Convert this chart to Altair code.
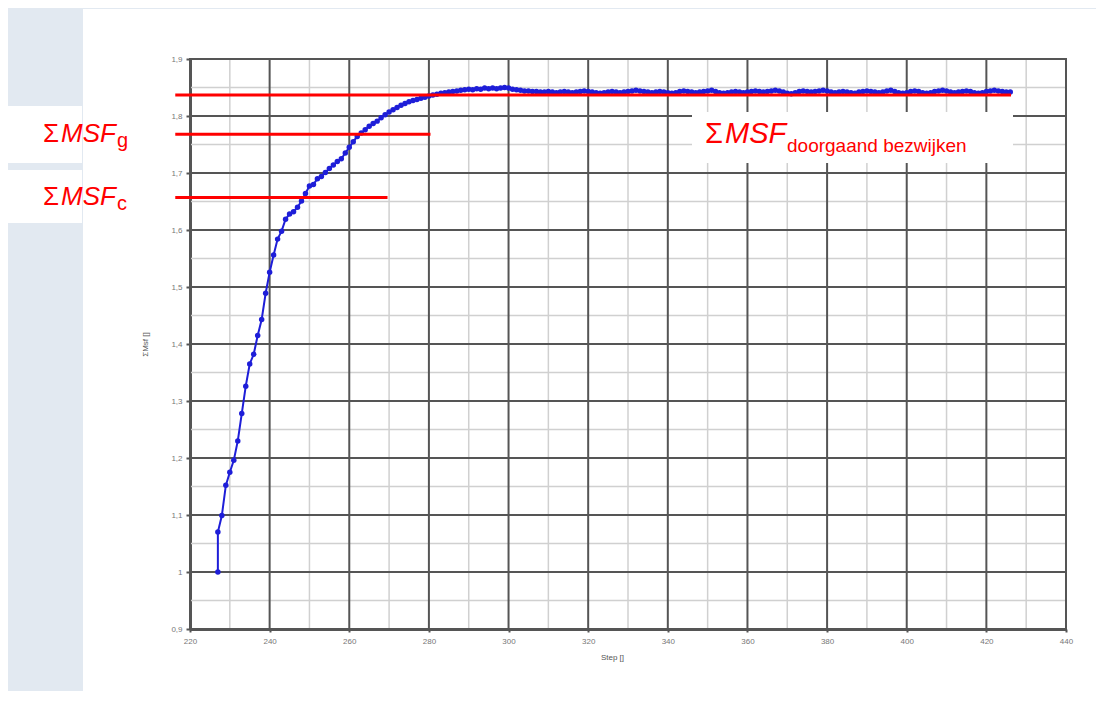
import altair as alt
import pandas as pd

# ---------------- data ----------------
steps = [227] + list(range(227, 427))
msf = [
    1.000, 1.070, 1.099, 1.152, 1.175, 1.196, 1.230, 1.278, 1.326, 1.365,
    1.382, 1.415, 1.443, 1.489, 1.526, 1.556, 1.584, 1.598, 1.619, 1.628,
    1.632, 1.640, 1.651, 1.664, 1.677, 1.680, 1.690, 1.694, 1.701, 1.708,
    1.714, 1.720, 1.725, 1.735, 1.745, 1.755, 1.764, 1.770, 1.776, 1.782,
    1.787, 1.791, 1.797, 1.802, 1.807, 1.811, 1.815, 1.819, 1.822, 1.825,
    1.827, 1.829, 1.831, 1.833, 1.835, 1.837, 1.838, 1.840, 1.841, 1.842,
    1.843, 1.844, 1.845, 1.846, 1.847, 1.846, 1.848, 1.847, 1.849, 1.848,
    1.849, 1.848, 1.849, 1.850, 1.849, 1.847, 1.846, 1.845, 1.844, 1.844,
    1.843, 1.843, 1.842,
    # 309 - 426
    1.842, 1.843, 1.842, 1.841, 1.842, 1.843, 1.842, 1.841, 1.842, 1.843,
    1.844, 1.843, 1.842, 1.841, 1.840, 1.841, 1.842, 1.843, 1.842, 1.841,
    1.842, 1.843, 1.844, 1.845, 1.844, 1.843, 1.842, 1.841, 1.842, 1.843,
    1.842, 1.841, 1.840, 1.841, 1.843, 1.844, 1.843, 1.842, 1.841, 1.842,
    1.843, 1.844, 1.845, 1.843, 1.841, 1.840, 1.841, 1.842, 1.843, 1.842,
    1.841, 1.842, 1.843, 1.844, 1.843, 1.842, 1.843, 1.844, 1.845, 1.844,
    1.842, 1.840, 1.839, 1.841, 1.843, 1.844, 1.843, 1.842, 1.843, 1.844,
    1.845, 1.844, 1.842, 1.841, 1.842, 1.843, 1.842, 1.841, 1.840, 1.842,
    1.843, 1.844, 1.843, 1.842, 1.841, 1.842, 1.844, 1.845, 1.843, 1.841,
    1.840, 1.841, 1.843, 1.844, 1.843, 1.841, 1.840, 1.841, 1.843, 1.844,
    1.845, 1.844, 1.842, 1.841, 1.842, 1.843, 1.844, 1.843, 1.841, 1.840,
    1.841, 1.843, 1.844, 1.845, 1.844, 1.843, 1.842, 1.842,
]

x_major = [220, 240, 260, 280, 300, 320, 340, 360, 380, 400, 420, 440]
x_minor = [230, 250, 270, 290, 310, 330, 350, 370, 390, 410, 430]
y_major = [0.9, 1.0, 1.1, 1.2, 1.3, 1.4, 1.5, 1.6, 1.7, 1.8, 1.9]
y_minor = [0.95, 1.05, 1.15, 1.25, 1.35, 1.45, 1.55, 1.65, 1.75, 1.85]

ref_levels = [1.837, 1.768, 1.657]
ref_start = [216.3, 216.3, 216.3]
ref_end = [426.2, 280.4, 269.6]

df = pd.DataFrame({"step": steps, "msf": msf, "idx": list(range(len(steps)))})
ref_df = pd.DataFrame({"lvl": ref_levels, "x0": ref_start, "x1": ref_end})
one = pd.DataFrame({"k": [0]})

FONT = "Liberation Sans"
RED = "#ff0000"
BLUE = "#1e1ed8"
BAND = "#e2e9f1"
MAJ = "#555555"
MIN = "#d0d0d0"

xscale = alt.Scale(domain=[220, 440], nice=False, zero=False)
yscale = alt.Scale(domain=[0.9, 1.9], nice=False, zero=False)

x_axis = alt.Axis(
    values=x_major,
    title="Step []",
    titleFont=FONT, titleFontSize=8, titleFontWeight="normal", titleColor="#555",
    titleX=422, titleY=28, titleBaseline="middle", titleAlign="center",
    labelFont=FONT, labelFontSize=8, labelColor="#777", labelPadding=5,
    labelOverlap=False, labelFlush=False,
    grid=False, ticks=True, tickSize=3, tickColor=MAJ, tickWidth=2,
    domainColor=MAJ, domainWidth=3,
)
y_axis = alt.Axis(
    values=y_major,
    title="ΣMsf []",
    titleFont=FONT, titleFontSize=8, titleFontWeight="normal", titleColor="#555",
    titleX=-45, titleY=285, titleBaseline="middle", titleAlign="center",
    labelFont=FONT, labelFontSize=8, labelColor="#777", labelPadding=4,
    labelExpr="replace(format(datum.value, '.1~f'), '.', ',')",
    labelOverlap=False, labelFlush=False,
    grid=False, ticks=True, tickSize=4, tickColor=MAJ, tickWidth=2,
    domainColor=MAJ, domainWidth=3,
)

# ---------- background decorations (outside plot) ----------
left_band = alt.Chart(one).mark_rect(color=BAND).encode(
    x=alt.value(-198), x2=alt.value(-107), y=alt.value(-59), y2=alt.value(650))
top_band = alt.Chart(one).mark_rect(color=BAND).encode(
    x=alt.value(-198), x2=alt.value(914), y=alt.value(-59), y2=alt.value(-50))
box_g = alt.Chart(one).mark_rect(color="white").encode(
    x=alt.value(-198), x2=alt.value(-108), y=alt.value(47), y2=alt.value(104))
box_c = alt.Chart(one).mark_rect(color="white").encode(
    x=alt.value(-198), x2=alt.value(-108), y=alt.value(111), y2=alt.value(164))
box_d = alt.Chart(one).mark_rect(color="white").encode(
    x=alt.value(502), x2=alt.value(823), y=alt.value(53), y2=alt.value(104))

# ---------- grid ----------
gx_min = alt.Chart(pd.DataFrame({"v": x_minor})).mark_rule(color=MIN, strokeWidth=1.5).encode(
    x=alt.X("v:Q", scale=xscale))
gy_min = alt.Chart(pd.DataFrame({"v": y_minor})).mark_rule(color=MIN, strokeWidth=1.5).encode(
    y=alt.Y("v:Q", scale=yscale))
gx_maj = alt.Chart(pd.DataFrame({"v": x_major})).mark_rule(color=MAJ, strokeWidth=2).encode(
    x=alt.X("v:Q", scale=xscale))
gy_maj = alt.Chart(pd.DataFrame({"v": y_major})).mark_rule(color=MAJ, strokeWidth=2).encode(
    y=alt.Y("v:Q", scale=yscale))

# ---------- data marks ----------
base = alt.Chart(df).encode(
    x=alt.X("step:Q", scale=xscale, axis=x_axis),
    y=alt.Y("msf:Q", scale=yscale, axis=y_axis),
    order=alt.Order("idx:Q"),
)
line = base.mark_line(color=BLUE, strokeWidth=2)
pts = base.mark_point(filled=True, color=BLUE, size=30, opacity=1)

rules = alt.Chart(ref_df).mark_rule(color=RED, strokeWidth=3, clip=False).encode(
    x=alt.X("x0:Q", scale=xscale),
    x2="x1:Q",
    y=alt.Y("lvl:Q", scale=yscale),
)


def txt(s, x, y, size, italic=False):
    return alt.Chart(one).mark_text(
        text=s, font=FONT, fontSize=size, color=RED, align="left",
        baseline="alphabetic", fontStyle="italic" if italic else "normal",
    ).encode(x=alt.value(x), y=alt.value(y))


labels = [
    txt("Σ", -147, 83, 26), txt("MSF", -129, 83, 26, True), txt("g", -73, 88, 20),
    txt("Σ", -147, 146, 26), txt("MSF", -129, 146, 26, True), txt("c", -73, 151, 20),
    txt("Σ", 515, 84, 29), txt("MSF", 535, 84, 29, True),
    txt("doorgaand bezwijken", 597, 93, 19),
]

chart = alt.layer(
    left_band, top_band, box_g, box_c,
    gx_min, gy_min, gx_maj, gy_maj,
    box_d,
    line, pts, rules, *labels,
).properties(
    width=876, height=570,
    padding={"left": 182, "top": 51, "right": 30, "bottom": 62},
    autosize=alt.AutoSizeParams(type="none"),
    background="white",
).configure_view(
    stroke=MAJ, strokeWidth=2, fill="white",
)

chart.save("out.html", embed_options={"renderer": "svg", "actions": False})
